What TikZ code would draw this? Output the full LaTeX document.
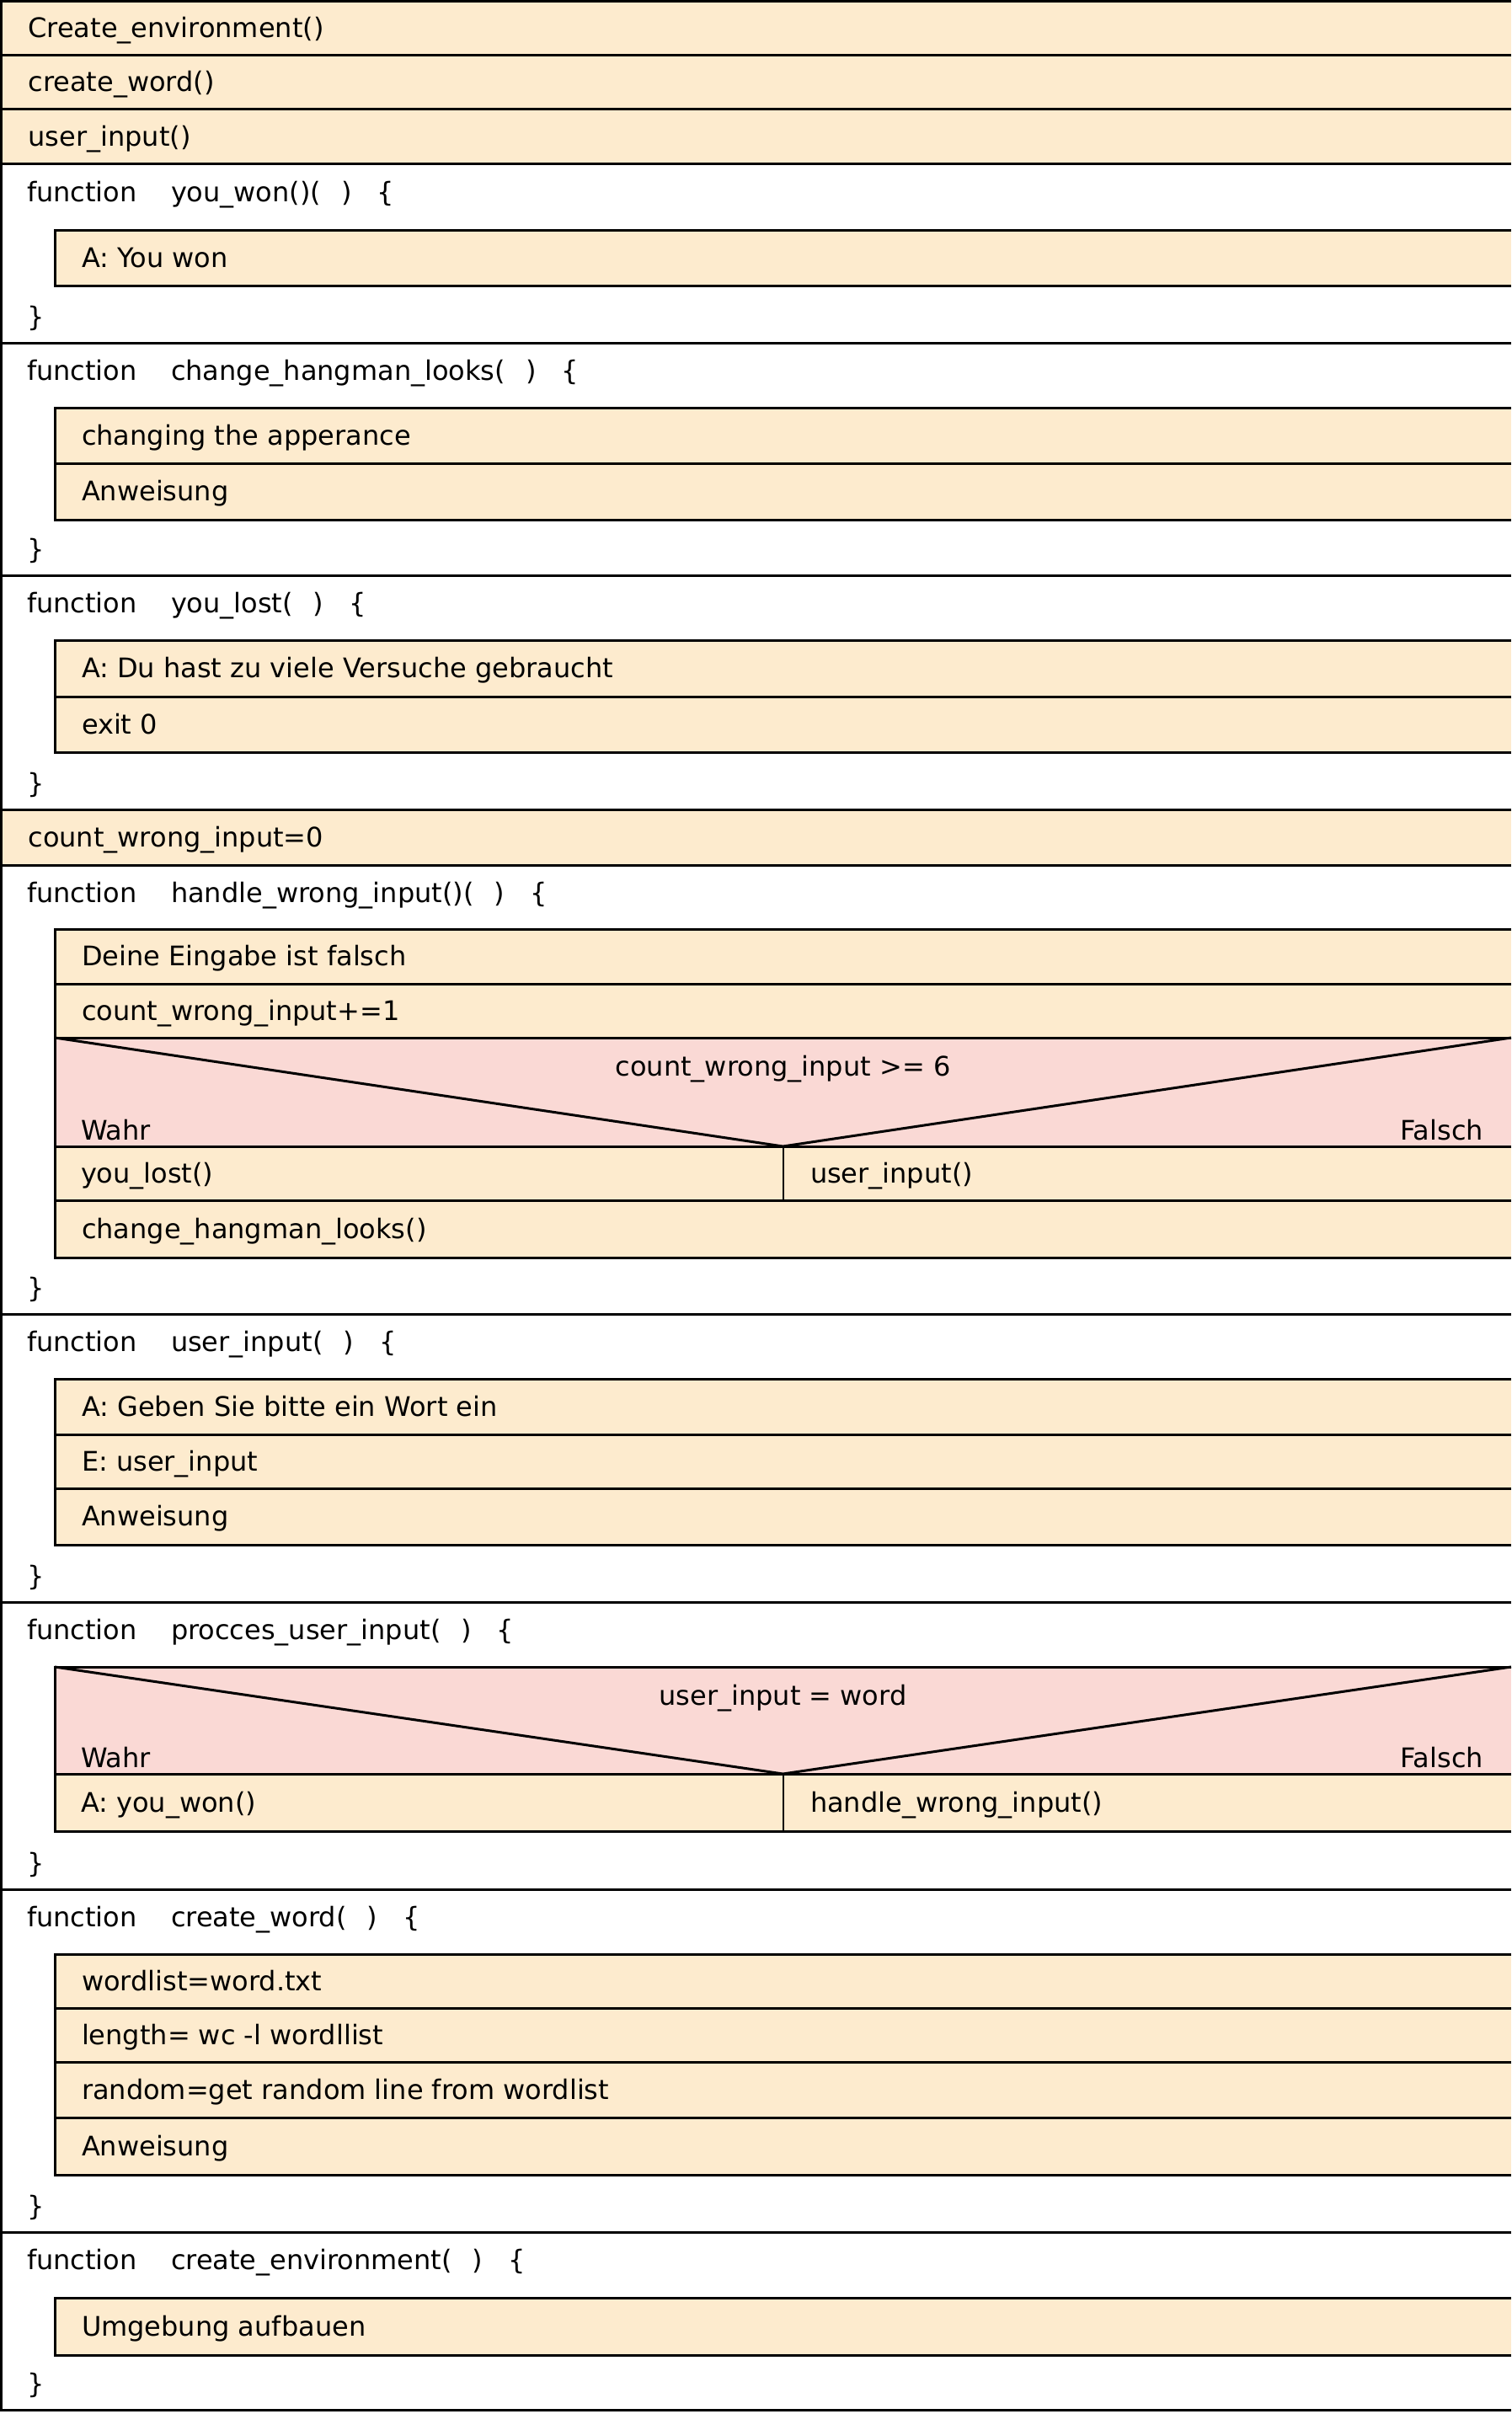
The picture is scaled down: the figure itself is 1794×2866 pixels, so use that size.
\documentclass[tikz,border=0pt]{standalone}
\usepackage{fontspec}
\setmainfont{DejaVu Sans}
\definecolor{nsbeige}{RGB}{253,235,206}
\definecolor{nspink}{RGB}{250,217,213}
\tikzset{
  nsline/.style={line width=3pt, draw=black},
  nsthin/.style={line width=2pt, draw=black},
  every node/.style={font=\fontsize{32}{38}\selectfont, inner sep=0pt, outer sep=0pt},
}
\newcommand\nsargs{(\hspace{24pt})\hspace{30pt}\{}
% row box: name, xleft, ytop, ybot, text
\newcommand\nsrow[5]{%
  \fill[nsbeige] (#2,#3) rectangle (1794,#4);
  \draw[nsline] (1794,#3) -- (#2,#3) -- (#2,#4) -- (1794,#4);
  \node[anchor=base west] (#1) at ({#2+32},{(#3+#4)/2+11}) {#5};
}
% function frame: name, ytop, ybot, function name
\newcommand\nsfunc[4]{%
  \draw[nsline] (0,#2) -- (1794,#2);
  \draw[nsline] (0,#3) -- (1794,#3);
  \node[anchor=base west] (#1kw) at (32,{#2+44}) {function};
  \node[anchor=base west] (#1name) at (203,{#2+44}) {#4};
  \node[anchor=base west] (#1end) at (32,{#3-20}) {\}};
}
% decision: name, ytop, ybot, condition
\newcommand\nsdec[4]{%
  \fill[nspink] (65,#2) rectangle (1794,#3);
  \draw[nsline] (1794,#2) -- (65,#2) -- (65,#3) -- (1794,#3);
  \draw[nsline] (65,#2) -- (929.5,#3) -- (1794,#2);
  \node[anchor=base] (#1) at (929.5,{#2+45}) {#4};
  \node[anchor=base west] (#1w) at (96,{#3-8}) {Wahr};
  \node[anchor=base east] (#1f) at (1761,{#3-8}) {Falsch};
}
% branch row: name, ytop, ybot, left text, right text
\newcommand\nsbranch[5]{%
  \fill[nsbeige] (65,#2) rectangle (1794,#3);
  \draw[nsline] (1794,#2) -- (65,#2) -- (65,#3) -- (1794,#3);
  \draw[nsthin] (929.5,#2) -- (929.5,#3);
  \node[anchor=base west] (#1l) at (96,{(#2+#3)/2+11}) {#4};
  \node[anchor=base west] (#1r) at (962,{(#2+#3)/2+11}) {#5};
}
\begin{document}
\begin{tikzpicture}[x=1pt,y=-1pt]
\useasboundingbox (0,0) rectangle (1794,2866);
\fill[white] (0,0) rectangle (1794,2866);

% top-level statements
\nsrow{r1}{1.5}{1.5}{66}{Create\_environment()}
\nsrow{r2}{1.5}{66}{130}{create\_word()}
\nsrow{r3}{1.5}{130}{195}{user\_input()}

% you_won
\nsfunc{fa}{195}{407}{you\_won()\nsargs}
\nsrow{fa1}{65}{273}{339}{A: You won}

% change_hangman_looks
\nsfunc{fb}{407}{683}{change\_hangman\_looks\nsargs}
\nsrow{fb1}{65}{484}{550}{changing the apperance}
\nsrow{fb2}{65}{550}{617}{Anweisung}

% you_lost
\nsfunc{fc}{683}{961}{you\_lost\nsargs}
\nsrow{fc1}{65}{760}{827}{A: Du hast zu viele Versuche gebraucht}
\nsrow{fc2}{65}{827}{893}{exit 0}

% count row
\nsrow{r4}{1.5}{961}{1027}{count\_wrong\_input=0}

% handle_wrong_input
\nsfunc{fd}{1027}{1560}{handle\_wrong\_input()\nsargs}
\nsrow{fd1}{65}{1103}{1168}{Deine Eingabe ist falsch}
\nsrow{fd2}{65}{1168}{1232}{count\_wrong\_input+=1}
\nsdec{fd3}{1232}{1361}{count\_wrong\_input >= 6}
\nsbranch{fd4}{1361}{1425}{you\_lost()}{user\_input()}
\nsrow{fd5}{65}{1425}{1493}{change\_hangman\_looks()}

% user_input
\nsfunc{fe}{1560}{1902}{user\_input\nsargs}
\nsrow{fe1}{65}{1637}{1703}{A: Geben Sie bitte ein Wort ein}
\nsrow{fe2}{65}{1703}{1767}{E: user\_input}
\nsrow{fe3}{65}{1767}{1834}{Anweisung}

% procces_user_input
\nsfunc{ff}{1902}{2243}{procces\_user\_input\nsargs}
\nsdec{ff1}{1979}{2106}{user\_input = word}
\nsbranch{ff2}{2106}{2174}{A: you\_won()}{handle\_wrong\_input()}

% create_word
\nsfunc{fg}{2243}{2650}{create\_word\nsargs}
\nsrow{fg1}{65}{2320}{2384}{wordlist=word.txt}
\nsrow{fg2}{65}{2384}{2448}{length= wc -l wordllist}
\nsrow{fg3}{65}{2448}{2514}{random=get random line from wordlist}
\nsrow{fg4}{65}{2514}{2582}{Anweisung}

% create_environment
\nsfunc{fh}{2650}{2861.5}{create\_environment\nsargs}
\nsrow{fh1}{65}{2728}{2796}{Umgebung aufbauen}

% outer left border and top line
\draw[nsline] (0,1.5) -- (1794,1.5);
\draw[nsline] (1.5,0) -- (1.5,2863);
\end{tikzpicture}
\end{document}
